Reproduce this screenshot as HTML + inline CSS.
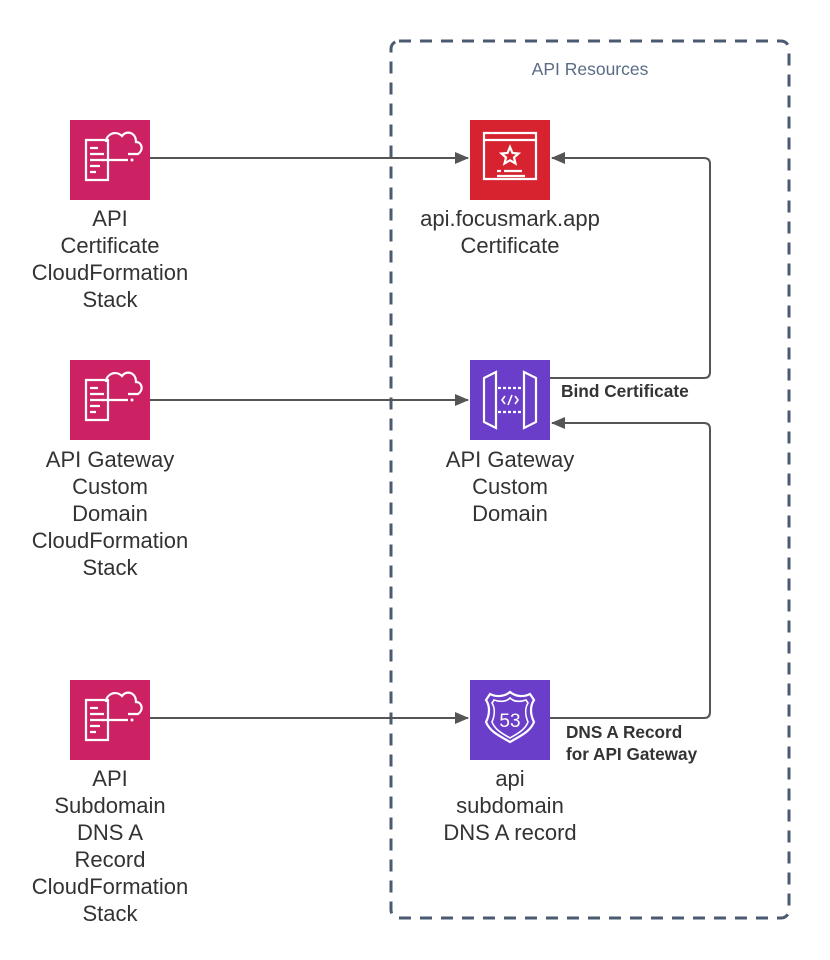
<!DOCTYPE html>
<html><head><style>
html,body{margin:0;padding:0;background:#fff;}
svg{display:block;}
text{font-family:"Liberation Sans",sans-serif;}
</style></head><body>
<svg width="830" height="960" viewBox="0 0 830 960" xmlns="http://www.w3.org/2000/svg">
<defs>
<marker id="ah" markerWidth="14" markerHeight="12" refX="13" refY="6" orient="auto" markerUnits="userSpaceOnUse">
<path d="M0,0 L14,6 L0,12 z" fill="#555"/>
</marker>
<g id="cf">
<rect width="80" height="80" fill="#cc2264"/>
<g fill="none" stroke="#fff" stroke-width="2.2">
<path d="M16,20 h22 v40 h-22 z"/>
<path d="M20,28 h8 M20,34 h14 M20,40 h14 M20,46 h10 M20,52 h6"/>
<path d="M36,22 c0,-8 10,-12 16,-6 c4,-6 14,-4 14,6 c6,0 8,8 2,12 h-10"/>
<path d="M32,40 h26"/>
</g>
<circle cx="62" cy="40" r="1.5" fill="#fff"/>
</g>
</defs>
<rect x="391" y="41" width="398" height="877" rx="8" fill="none" stroke="#4a5a70" stroke-width="3" stroke-dasharray="12 9"/>
<text x="590" y="75" font-size="17.5" fill="#5a6b86" text-anchor="middle">API Resources</text>

<use href="#cf" x="70" y="120"/>
<use href="#cf" x="70" y="360"/>
<use href="#cf" x="70" y="680"/>

<rect x="470" y="120" width="80" height="80" fill="#d6232f"/>
<g fill="none" stroke="#fff" stroke-width="2.2">
<path d="M484,133 h52 v46 h-52 z M484,140 h52"/>
<path d="M510,147 l2.5,6 6,0.5 -4.5,4 1.5,6 -5.5,-3.2 -5.5,3.2 1.5,-6 -4.5,-4 6,-0.5 z"/>
<path d="M497,171 h4 M504,171 h18 M497,176 h28"/>
</g>
<rect x="470" y="360" width="80" height="80" fill="#6a3ec8"/>
<g fill="none" stroke="#fff" stroke-width="2.2">
<path d="M484,378 l12,-6 v56 l-12,-6 z"/>
<path d="M536,378 l-12,-6 v56 l12,-6 z"/>
<path d="M498,388 h24 M498,412 h24" stroke-dasharray="3 2"/>
<path d="M505,396 l-3,4 3,4 M515,396 l3,4 -3,4 M512,395 l-4,10" stroke-width="1.6"/>
</g>
<rect x="470" y="680" width="80" height="80" fill="#6a3ec8"/>
<g fill="none" stroke="#fff" stroke-width="2.2">
<path d="M490,694 c6,3 14,3 20,-2 c6,5 14,5 20,2 l4,6 c-4,6 -4,14 0,22 c-4,10 -14,14 -24,20 c-10,-6 -20,-10 -24,-20 c4,-8 4,-16 0,-22 z"/>
<path d="M494,700 c6,2 12,2 16,-2 c4,4 10,4 16,2 l2,3 c-3,5 -3,12 0,19 c-3,8 -11,12 -18,16 c-7,-4 -15,-8 -18,-16 c3,-7 3,-14 0,-19 z" stroke-width="1.6"/>
</g>
<text x="510" y="727" font-size="19" fill="#fff" text-anchor="middle">53</text>

<g stroke="#555" stroke-width="2" fill="none">
<path d="M150,158 H468" marker-end="url(#ah)"/>
<path d="M150,400 H468" marker-end="url(#ah)"/>
<path d="M150,718 H468" marker-end="url(#ah)"/>
<path d="M550,378 H704 q6,0 6,-6 V164 q0,-6 -6,-6 H552" marker-end="url(#ah)"/>
<path d="M550,718 H704 q6,0 6,-6 V429 q0,-6 -6,-6 H552" marker-end="url(#ah)"/>
</g>
<text x="561" y="397" font-size="17.3" font-weight="bold" fill="#333">Bind Certificate</text>
<text x="566" y="738" font-size="17.2" font-weight="bold" fill="#333">DNS A Record</text>
<text x="566" y="760" font-size="17.2" font-weight="bold" fill="#333">for API Gateway</text>

<g font-size="22" fill="#333" text-anchor="middle">
<text x="110" y="226">API</text>
<text x="110" y="253">Certificate</text>
<text x="110" y="280">CloudFormation</text>
<text x="110" y="307">Stack</text>

<text x="110" y="467">API Gateway</text>
<text x="110" y="494">Custom</text>
<text x="110" y="521">Domain</text>
<text x="110" y="548">CloudFormation</text>
<text x="110" y="575">Stack</text>

<text x="110" y="786">API</text>
<text x="110" y="813">Subdomain</text>
<text x="110" y="840">DNS A</text>
<text x="110" y="867">Record</text>
<text x="110" y="894">CloudFormation</text>
<text x="110" y="921">Stack</text>

<text x="510" y="226">api.focusmark.app</text>
<text x="510" y="253">Certificate</text>

<text x="510" y="467">API Gateway</text>
<text x="510" y="494">Custom</text>
<text x="510" y="521">Domain</text>

<text x="510" y="786">api</text>
<text x="510" y="813">subdomain</text>
<text x="510" y="840">DNS A record</text>
</g>
</svg>
</body></html>
